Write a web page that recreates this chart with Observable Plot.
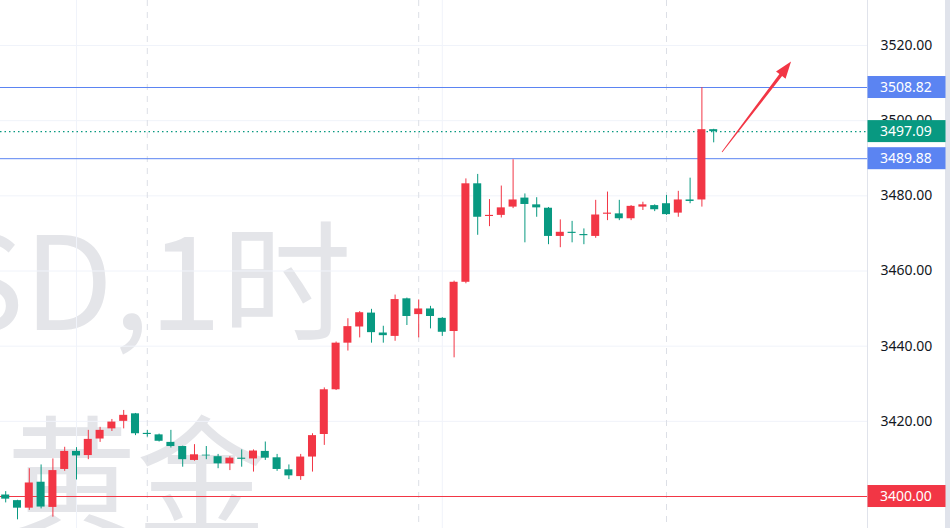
<!DOCTYPE html>
<html><head><meta charset="utf-8">
<script src="https://cdn.jsdelivr.net/npm/d3@7"></script>
<script src="https://cdn.jsdelivr.net/npm/@observablehq/plot@0.6"></script>
<style>
html,body{margin:0;padding:0;background:#fff;overflow:hidden}
</style></head><body><div id="chart"></div>
<script>
// Hourly candles (index 0..60), XAUUSD 1H
const opens  = [3400.4,3398.9,3396.9,3403.8,3397.1,3407.2,3412.0,3410.9,3415.3,3418.0,3420.0,3422.0,3416.8,3416.4,3414.4,3413.3,3409.6,3411.0,3410.6,3408.7,3410.2,3410.0,3412.0,3410.3,3407.1,3405.3,3410.5,3416.5,3428.4,3440.8,3445.1,3448.8,3443.5,3442.6,3452.6,3448.4,3449.9,3447.4,3443.9,3457.0,3483.2,3474.5,3474.8,3477.0,3479.4,3477.6,3476.7,3469.2,3470.3,3469.7,3469.2,3475.1,3475.2,3473.9,3477.0,3477.4,3477.9,3475.4,3478.9,3478.9,3497.6];
const highs  = [3401.3,3399.0,3407.4,3408.4,3410.0,3413.1,3413.0,3417.6,3418.4,3420.5,3422.9,3422.1,3417.6,3416.6,3417.6,3413.4,3413.8,3413.3,3411.2,3410.6,3412.4,3412.4,3414.5,3411.2,3408.4,3411.2,3416.7,3428.9,3441.1,3447.3,3449.2,3449.8,3445.3,3453.6,3452.8,3452.3,3450.6,3447.6,3457.3,3484.5,3485.7,3479.0,3482.6,3489.6,3480.5,3479.5,3476.9,3473.6,3473.2,3471.2,3478.8,3481.0,3478.8,3477.4,3478.3,3477.6,3480.1,3481.2,3484.7,3508.8,3497.7];
const lows   = [3398.3,3393.8,3396.3,3396.7,3394.5,3406.7,3404.4,3409.8,3414.4,3417.3,3418.0,3416.2,3415.8,3414.5,3412.9,3407.8,3409.4,3409.8,3407.4,3406.9,3407.8,3406.5,3409.6,3406.7,3404.5,3404.3,3406.5,3413.6,3428.2,3438.7,3442.2,3440.8,3440.8,3441.3,3445.5,3442.2,3444.6,3442.6,3436.9,3456.6,3469.5,3471.8,3474.1,3476.6,3467.5,3474.3,3467.0,3466.2,3467.5,3467.0,3468.7,3473.4,3473.4,3473.4,3476.1,3475.8,3474.8,3474.3,3477.9,3477.0,3494.1];
const closes = [3399.3,3396.9,3403.6,3397.2,3406.9,3412.0,3410.8,3415.2,3417.6,3419.8,3421.6,3416.7,3416.5,3414.7,3413.3,3409.8,3411.1,3410.8,3408.7,3410.2,3409.9,3412.1,3410.2,3407.2,3405.5,3410.5,3416.2,3428.4,3440.8,3445.2,3448.9,3443.6,3442.8,3452.4,3447.9,3449.9,3447.9,3443.7,3457.0,3483.2,3474.3,3474.8,3476.8,3478.9,3477.7,3476.8,3469.2,3470.3,3470.0,3469.4,3474.9,3475.4,3473.9,3477.2,3477.6,3476.3,3475.0,3478.9,3478.5,3497.6,3497.09];

const yTicks = [3400, 3420, 3440, 3460, 3480, 3500, 3520];
const sessionLines = [12, 35, 56];   // dashed separators (candle index)
const timeGrid = [6, 37];            // solid vertical grid (candle index)
const levelPrices = [3508.82, 3489.88, 3400.00];
const levelKinds  = ["blue", "blue", "red"];
const lastPrice = 3497.09;
const watermarkTop = "XAUUSD,1时";
const watermarkBottom = "现货黄金";
const arrowFrom = {i: 60.75, p: 3491.5};
const arrowTo   = {i: 66.6,  p: 3515.6};

const UP = "#F23645", DOWN = "#089981", BLUE = "#5b84f2";
const kindColor = {blue: BLUE, red: UP};

const candles = opens.map((o, i) => ({i, o, h: highs[i], l: lows[i], c: closes[i], up: closes[i] >= o}));
const levels = levelPrices.map((p, k) => ({p, color: kindColor[levelKinds[k]]}));
const tags = [...levels, {p: lastPrice, color: DOWN}];

const W = 950, H = 528, MR = 83;

const chart = Plot.plot({
  width: W, height: H,
  marginLeft: 0, marginRight: MR, marginTop: 0, marginBottom: 0,
  style: {fontFamily: "'Noto Sans', sans-serif", background: "#fff", overflow: "hidden"},
  x: {domain: [-0.4407, 73.034], axis: null},
  y: {domain: [3391.49, 3531.97]},
  marks: [
    // watermark
    Plot.text([watermarkTop], {frameAnchor: "top-left", dx: 351, dy: 329, textAnchor: "end", lineAnchor: "bottom",
      fontSize: 130, fill: "#e4e5e9", fontFamily: "'Noto Sans CJK SC', sans-serif"}),
    Plot.text([watermarkBottom], {frameAnchor: "top-left", dx: 266, dy: 524, textAnchor: "end", lineAnchor: "bottom",
      fontSize: 130, fill: "#e4e5e9", fontFamily: "'Noto Sans CJK SC', sans-serif"}),
    // grid
    Plot.ruleY(yTicks, {stroke: "#f0f3fa", strokeWidth: 1}),
    Plot.ruleX(timeGrid, {x: d => d, stroke: "#f0f3fa", strokeWidth: 1}),
    Plot.ruleX(sessionLines, {x: d => d, stroke: "#dcdfe6", strokeWidth: 1, strokeDasharray: "6,6"}),
    // levels
    Plot.ruleY(levels, {y: "p", stroke: "color", strokeWidth: 1}),
    Plot.ruleY([lastPrice], {stroke: DOWN, strokeWidth: 1.2, strokeDasharray: "1.5,3"}),
    // candles
    Plot.ruleX(candles, {x: "i", y1: "l", y2: "h", stroke: d => d.up ? UP : DOWN, strokeWidth: 1}),
    Plot.rect(candles, {x1: d => d.i - 0.34, x2: d => d.i + 0.34, y1: "o", y2: "c", fill: d => d.up ? UP : DOWN}),
    // arrow
    (index, {x, y}) => {
      const x1 = x(arrowFrom.i), y1 = y(arrowFrom.p), x2 = x(arrowTo.i), y2 = y(arrowTo.p);
      const dx = x2 - x1, dy = y2 - y1, L = Math.hypot(dx, dy);
      const ux = dx / L, uy = dy / L, px = -uy, py = ux;
      const head = 17, hw = 6, w0 = 0.4, w1 = 1.7;
      const bx = x2 - ux * head, by = y2 - uy * head;
      const pts = [
        [x1 + px * w0, y1 + py * w0], [bx + px * w1, by + py * w1], [bx + px * hw, by + py * hw],
        [x2, y2], [bx - px * hw, by - py * hw], [bx - px * w1, by - py * w1], [x1 - px * w0, y1 - py * w0]
      ];
      const g = d3.create("svg:g");
      g.append("path").attr("d", "M" + pts.map(p => p.join(",")).join("L") + "Z").attr("fill", UP);
      return g.node();
    },
    // right panel separator + scrollbar strip
    (index, scales, values, dims) => {
      const g = d3.create("svg:g");
      const x0 = dims.width - dims.marginRight;
      g.append("rect").attr("x", x0).attr("y", 0).attr("width", dims.marginRight).attr("height", dims.height).attr("fill", "#fff");
      g.append("line").attr("x1", x0 + 0.5).attr("x2", x0 + 0.5).attr("y1", 0).attr("y2", dims.height).attr("stroke", "#e0e3eb");
      g.append("rect").attr("x", dims.width - 5).attr("y", 0).attr("width", 5).attr("height", dims.height).attr("fill", "#e0e3eb");
      return g.node();
    },
    Plot.axisY({anchor: "right", ticks: yTicks, tickFormat: d => d.toFixed(2), tickSize: 0, tickPadding: 13,
      fontSize: 14, fill: "#131722", label: null}),
    // price tags
    (index, {y}, values, dims) => {
      const g = d3.create("svg:g");
      const x0 = dims.width - dims.marginRight;
      for (const t of tags) {
        const cy = y(t.p);
        g.append("rect").attr("x", x0 + 0.5).attr("y", cy - 11).attr("width", 78).attr("height", 22).attr("fill", t.color);
        g.append("text").attr("x", x0 + 13).attr("y", cy).attr("dy", "0.35em").attr("fill", "#fff")
          .attr("text-anchor", "start").attr("font-size", 14)
          .attr("font-family", "'Noto Sans', sans-serif").text(t.p.toFixed(2));
      }
      return g.node();
    }
  ]
});
document.getElementById("chart").appendChild(chart);
</script>
</body></html>
